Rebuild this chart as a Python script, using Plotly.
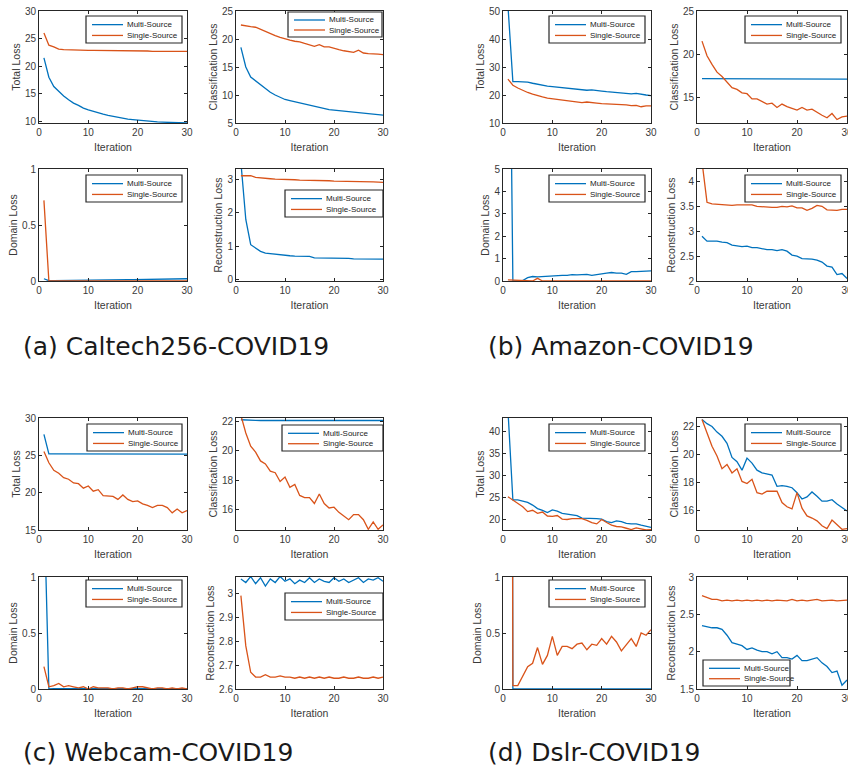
import plotly.graph_objects as go

W, H = 848, 772
iterations = list(range(1, 31))

# ---------------- (a) Caltech256-COVID19 ----------------
a_total_multi = [21.5, 18.0, 16.3, 15.4, 14.6, 13.9, 13.3, 12.9, 12.4, 12.1, 11.8, 11.6, 11.3, 11.1, 10.9,
                 10.7, 10.6, 10.4, 10.3, 10.2, 10.1, 10.0, 9.95, 9.9, 9.85, 9.8, 9.75, 9.7, 9.7, 9.7]
a_total_single = [26.0, 23.8, 23.5, 23.1, 23.0, 22.95, 22.9, 22.9, 22.9, 22.85, 22.85, 22.85, 22.8, 22.8, 22.8,
                  22.8, 22.75, 22.75, 22.75, 22.75, 22.75, 22.75, 22.7, 22.7, 22.7, 22.7, 22.7, 22.7, 22.7, 22.7]
a_cls_multi = [18.5, 15.0, 13.2, 12.5, 11.8, 11.1, 10.5, 10.0, 9.6, 9.2, 9.0, 8.8, 8.6, 8.3, 8.1,
               7.9, 7.7, 7.5, 7.4, 7.3, 7.2, 7.1, 7.0, 6.9, 6.9, 6.8, 6.7, 6.6, 6.5, 6.4]
a_cls_single = [22.5, 22.3, 22.2, 22.1, 21.7, 21.3, 20.9, 20.6, 20.3, 20.0, 19.8, 19.6, 19.5, 19.2, 19.0,
                18.7, 19.0, 18.6, 18.6, 18.3, 18.1, 17.9, 17.8, 17.6, 18.0, 17.5, 17.4, 17.4, 17.3, 17.2]
a_dom_multi = [0.02, 0.003, 0.004, 0.005, 0.006, 0.006, 0.007, 0.008, 0.008, 0.009, 0.009, 0.01, 0.01, 0.011, 0.011,
               0.012, 0.012, 0.013, 0.013, 0.014, 0.014, 0.015, 0.015, 0.016, 0.016, 0.017, 0.017, 0.018, 0.019, 0.02]
a_dom_single = [0.72, 0.0, 0.0, 0.0, 0.0, 0.0, 0.0, 0.0, 0.0, 0.0, 0.0, 0.0, 0.0, 0.0, 0.0,
                0.0, 0.0, 0.0, 0.0, 0.0, 0.0, 0.0, 0.0, 0.0, 0.0, 0.0, 0.0, 0.0, 0.0, 0.0]
a_rec_multi = [3.5, 1.8, 1.05, 0.95, 0.85, 0.8, 0.78, 0.76, 0.74, 0.72, 0.72, 0.71, 0.7, 0.69, 0.7,
               0.66, 0.66, 0.65, 0.65, 0.65, 0.64, 0.64, 0.64, 0.63, 0.63, 0.63, 0.62, 0.62, 0.62, 0.62]
a_rec_single = [3.1, 3.1, 3.1, 3.05, 3.03, 3.02, 3.01, 3.0, 3.0, 3.0, 2.99, 2.98, 2.97, 2.97, 2.96,
                2.96, 2.95, 2.95, 2.95, 2.94, 2.94, 2.94, 2.93, 2.93, 2.93, 2.93, 2.92, 2.92, 2.91, 2.9]

# ---------------- (b) Amazon-COVID19 ----------------
b_total_multi = [52.0, 24.8, 24.8, 24.8, 24.6, 24.2, 23.8, 23.5, 23.2, 23.0, 22.8, 22.6, 22.4, 22.3, 22.0,
                 21.9, 21.7, 21.8, 21.5, 21.4, 21.2, 21.0, 20.8, 20.6, 20.5, 20.4, 20.6, 20.2, 20.0, 19.8]
b_total_single = [25.7, 23.5, 22.5, 21.6, 20.9, 20.3, 19.7, 19.3, 18.9, 18.7, 18.3, 18.1, 17.9, 17.7, 17.6,
                  17.3, 17.5, 17.2, 17.1, 16.9, 16.8, 16.9, 16.6, 16.7, 16.5, 16.2, 16.3, 15.8, 16.1, 16.1]
b_cls_multi = [17.15, 17.15, 17.15, 17.15, 17.14, 17.14, 17.14, 17.13, 17.13, 17.13, 17.13, 17.12, 17.12, 17.12, 17.12,
               17.12, 17.12, 17.11, 17.11, 17.11, 17.11, 17.11, 17.11, 17.1, 17.1, 17.1, 17.1, 17.1, 17.1, 17.1]
b_cls_single = [21.5, 19.8, 18.8, 17.9, 17.4, 16.7, 16.1, 15.9, 15.5, 15.4, 14.8, 14.8, 14.5, 14.2, 14.3,
                13.8, 14.2, 13.9, 13.7, 13.5, 13.8, 13.5, 13.6, 13.2, 12.9, 12.6, 13.1, 12.4, 12.7, 12.8]
b_dom_multi = [20.0, 0.0, 0.0, 0.02, 0.15, 0.2, 0.18, 0.2, 0.22, 0.22, 0.23, 0.25, 0.25, 0.28, 0.27,
               0.3, 0.3, 0.25, 0.3, 0.32, 0.35, 0.38, 0.35, 0.35, 0.3, 0.42, 0.42, 0.43, 0.42, 0.45]
b_dom_single = [0.05, 0.04, 0.03, 0.0, 0.0, 0.0, 0.12, 0.0, 0.0, 0.0, 0.01, 0.01, 0.0, 0.0, 0.02,
                0.02, 0.02, 0.01, 0.01, 0.0, 0.01, 0.01, 0.01, 0.01, 0.02, 0.02, 0.02, 0.02, 0.02, 0.01]
b_rec_multi = [2.9, 2.8, 2.8, 2.8, 2.78, 2.77, 2.72, 2.7, 2.69, 2.7, 2.67, 2.67, 2.65, 2.63, 2.63,
               2.61, 2.63, 2.6, 2.52, 2.5, 2.45, 2.45, 2.44, 2.42, 2.38, 2.3, 2.28, 2.13, 2.15, 2.05]
b_rec_single = [4.4, 3.58, 3.55, 3.54, 3.53, 3.52, 3.52, 3.53, 3.53, 3.52, 3.53, 3.5, 3.49, 3.48, 3.48,
                3.48, 3.5, 3.49, 3.51, 3.47, 3.47, 3.42, 3.46, 3.52, 3.5, 3.43, 3.43, 3.42, 3.44, 3.44]

# ---------------- (c) Webcam-COVID19 ----------------
c_total_multi = [27.8, 25.2, 25.2, 25.2, 25.2, 25.15, 25.15, 25.15, 25.15, 25.15, 25.15, 25.15, 25.15, 25.15, 25.15,
                 25.15, 25.15, 25.15, 25.15, 25.15, 25.15, 25.15, 25.15, 25.15, 25.15, 25.15, 25.15, 25.15, 25.15, 25.15]
c_total_single = [25.5, 24.0, 23.0, 22.6, 22.0, 21.8, 21.3, 21.2, 20.6, 20.9, 20.2, 20.4, 19.6, 19.5, 19.5,
                  19.1, 19.7, 19.1, 18.8, 18.9, 18.5, 18.3, 18.0, 18.3, 18.3, 18.0, 17.3, 17.8, 17.3, 17.6]
c_cls_multi = [22.1, 22.07, 22.06, 22.06, 22.05, 22.05, 22.05, 22.05, 22.05, 22.05, 22.05, 22.05, 22.05, 22.05, 22.05,
               22.05, 22.05, 22.05, 22.05, 22.05, 22.05, 22.05, 22.05, 22.05, 22.05, 22.05, 22.05, 22.05, 22.05, 22.05]
c_cls_single = [22.4, 21.2, 20.3, 19.9, 19.3, 19.1, 18.6, 18.5, 17.9, 18.2, 17.5, 17.7, 16.95, 16.8, 16.8,
                16.4, 17.05, 16.4, 16.1, 16.15, 15.8, 15.55, 15.3, 15.65, 15.65, 15.3, 14.65, 15.15, 14.65, 14.95]
c_dom_multi = [1.7, 0.0, 0.003, 0.003, 0.003, 0.003, 0.003, 0.003, 0.003, 0.003, 0.003, 0.003, 0.003, 0.003, 0.003,
               0.003, 0.003, 0.003, 0.003, 0.003, 0.003, 0.003, 0.003, 0.003, 0.003, 0.003, 0.003, 0.003, 0.003, 0.003]
c_dom_single = [0.2, 0.02, 0.03, 0.05, 0.02, 0.03, 0.02, 0.01, 0.02, 0.0, 0.02, 0.01, 0.01, 0.01, 0.0,
                0.01, 0.01, 0.0, 0.01, 0.02, 0.02, 0.01, 0.0, 0.01, 0.01, 0.0, 0.01, 0.0, 0.01, 0.0]
c_rec_multi = [3.06, 3.045, 3.07, 3.04, 3.065, 3.03, 3.06, 3.045, 3.07, 3.05, 3.06, 3.04, 3.055, 3.045, 3.065,
               3.045, 3.06, 3.05, 3.045, 3.065, 3.05, 3.06, 3.045, 3.055, 3.065, 3.045, 3.06, 3.055, 3.065, 3.05]
c_rec_single = [2.99, 2.78, 2.67, 2.65, 2.65, 2.66, 2.65, 2.65, 2.655, 2.65, 2.65, 2.645, 2.65, 2.645, 2.65,
                2.645, 2.65, 2.645, 2.65, 2.645, 2.645, 2.65, 2.645, 2.645, 2.65, 2.645, 2.645, 2.65, 2.645, 2.65]

# ---------------- (d) Dslr-COVID19 ----------------
d_total_multi = [45.0, 24.4, 24.4, 24.1, 23.8, 23.2, 22.4, 22.0, 21.5, 22.1, 21.8, 21.3, 21.1, 20.9, 20.8,
                 20.2, 20.2, 20.1, 20.1, 20.0, 19.4, 19.2, 19.6, 19.4, 19.0, 18.9, 18.9, 18.6, 18.4, 18.1]
d_total_single = [25.1, 24.3, 23.4, 22.8, 21.7, 22.0, 21.3, 21.6, 20.7, 20.6, 20.8, 20.0, 19.9, 20.1, 20.1,
                  20.1, 19.7, 19.2, 18.9, 19.9, 19.2, 18.6, 18.3, 18.2, 17.9, 17.6, 18.0, 17.7, 17.5, 17.6]
d_cls_multi = [22.5, 22.2, 22.0, 21.6, 21.3, 20.8, 19.8, 19.5, 18.9, 19.75, 19.4, 18.9, 18.7, 18.6, 18.55,
               17.75, 17.8, 17.75, 17.65, 17.3, 16.85, 17.0, 17.35, 17.05, 16.7, 16.7, 16.8, 16.5, 16.25, 16.0]
d_cls_single = [22.5, 21.5, 20.6, 19.9, 19.0, 19.3, 18.7, 19.0, 18.1, 17.95, 18.25, 17.3, 17.2, 17.4, 17.4,
                17.4, 16.6, 16.3, 16.15, 17.3, 16.2, 15.65, 15.5, 15.3, 14.95, 14.75, 15.35, 15.0, 14.7, 14.75]
d_dom_multi = [20.0, 0.0, 0.0, 0.0, 0.0, 0.0, 0.0, 0.0, 0.0, 0.0, 0.0, 0.0, 0.0, 0.0, 0.0,
               0.0, 0.0, 0.0, 0.0, 0.0, 0.0, 0.0, 0.0, 0.0, 0.0, 0.0, 0.0, 0.0, 0.0, 0.0]
d_dom_single = [20.0, 0.03, 0.03, 0.12, 0.2, 0.23, 0.37, 0.22, 0.3, 0.47, 0.3, 0.38, 0.38, 0.36, 0.4,
                0.41, 0.35, 0.4, 0.39, 0.45, 0.4, 0.47, 0.42, 0.34, 0.4, 0.45, 0.38, 0.5, 0.48, 0.53]
d_rec_multi = [2.35, 2.33, 2.32, 2.32, 2.3, 2.22, 2.12, 2.1, 2.08, 2.03, 2.05, 2.02, 2.0, 2.0, 1.97,
               2.0, 1.92, 1.92, 1.9, 1.95, 1.88, 1.88, 1.9, 1.92, 1.85, 1.8, 1.72, 1.74, 1.55, 1.62]
d_rec_single = [2.75, 2.72, 2.7, 2.7, 2.68, 2.69, 2.68, 2.69, 2.68, 2.69, 2.68, 2.69, 2.68, 2.69, 2.68,
                2.69, 2.69, 2.68, 2.7, 2.68, 2.69, 2.68, 2.69, 2.7, 2.68, 2.69, 2.69, 2.68, 2.69, 2.69]

series_names = ["Multi-Source", "Single-Source"]
captions = ["(a) Caltech256-COVID19", "(b) Amazon-COVID19", "(c) Webcam-COVID19", "(d) Dslr-COVID19"]
x_ticks = [0, 10, 20, 30]

BLUE = "#0072BD"
ORANGE = "#D95319"
AXC = "#262626"
TXT = "#3a3a3a"
FONT = "Arial, Liberation Sans, sans-serif"

col_x = [(39, 187), (236, 383), (503, 651), (697, 847)]
row_y = [(11, 123), (169, 281), (418, 530), (577, 689)]

# (multi, single, y title, y range, y ticks, column, row, legend box px (l, t, r, b))
panels = [
    (a_total_multi, a_total_single, "Total Loss", [9.7, 30], [10, 15, 20, 25, 30], 0, 0, (86, 16, 182, 43)),
    (a_cls_multi, a_cls_single, "Classification Loss", [5, 25], [5, 10, 15, 20, 25], 1, 0, (288, 12, 382, 37)),
    (a_dom_multi, a_dom_single, "Domain Loss", [0, 1], [0, 0.5, 1], 0, 1, (86, 175, 182, 202)),
    (a_rec_multi, a_rec_single, "Reconstruction Loss", [-0.03, 3.3], [0, 1, 2, 3], 1, 1, (285, 190, 383, 217)),
    (b_total_multi, b_total_single, "Total Loss", [10, 50], [10, 20, 30, 40, 50], 2, 0, (549, 16, 645, 43)),
    (b_cls_multi, b_cls_single, "Classification Loss", [12, 25], [15, 20, 25], 3, 0, (745, 16, 841, 43)),
    (b_dom_multi, b_dom_single, "Domain Loss", [0, 5], [0, 1, 2, 3, 4, 5], 2, 1, (549, 175, 645, 202)),
    (b_rec_multi, b_rec_single, "Reconstruction Loss", [2, 4.25], [2, 2.5, 3, 3.5, 4], 3, 1, (745, 175, 841, 202)),
    (c_total_multi, c_total_single, "Total Loss", [15, 30], [15, 20, 25, 30], 0, 2, (87, 424, 182, 451)),
    (c_cls_multi, c_cls_single, "Classification Loss", [14.6, 22.22], [16, 18, 20, 22], 1, 2, (282, 425, 383, 451)),
    (c_dom_multi, c_dom_single, "Domain Loss", [0, 1], [0, 0.5, 1], 0, 3, (86, 580, 182, 607)),
    (c_rec_multi, c_rec_single, "Reconstruction Loss", [2.6, 3.068], [2.6, 2.7, 2.8, 2.9, 3], 1, 3, (285, 593, 383, 620)),
    (d_total_multi, d_total_single, "Total Loss", [17.5, 43.1], [20, 25, 30, 35, 40], 2, 2, (549, 424, 645, 451)),
    (d_cls_multi, d_cls_single, "Classification Loss", [14.65, 22.6], [16, 18, 20, 22], 3, 2, (745, 424, 841, 451)),
    (d_dom_multi, d_dom_single, "Domain Loss", [0, 1], [0, 0.5, 1], 2, 3, (549, 580, 645, 607)),
    (d_rec_multi, d_rec_single, "Reconstruction Loss", [1.5, 3], [1.5, 2, 2.5, 3], 3, 3, (703, 660, 790, 686)),
]


def fx(p):
    return p / W


def fy(p):
    return 1 - p / H


fig = go.Figure()
shapes = []
annotations = []
layout_axes = {}

for k, (multi, single, ytitle, yr, yt, ci, ri, lg) in enumerate(panels):
    n = k + 1
    xa = "x" if n == 1 else f"x{n}"
    ya = "y" if n == 1 else f"y{n}"
    for vals, color, name in [(multi, BLUE, series_names[0]), (single, ORANGE, series_names[1])]:
        fig.add_trace(go.Scatter(x=iterations, y=vals, mode="lines", name=name,
                                 line=dict(color=color, width=1.3), xaxis=xa, yaxis=ya,
                                 showlegend=False))
    x0, x1 = col_x[ci]
    y0, y1 = row_y[ri]
    common = dict(showline=True, linecolor=AXC, linewidth=1, mirror="ticks", ticks="inside",
                  ticklen=3, tickcolor=AXC, showgrid=False, zeroline=False, automargin=False,
                  ticklabeloverflow="allow",
                  tickfont=dict(family=FONT, size=10, color=TXT))
    layout_axes["xaxis" if n == 1 else f"xaxis{n}"] = dict(
        domain=[fx(x0), fx(x1)], anchor=ya, range=[0, 30], tickvals=x_ticks,
        title=dict(text="Iteration", font=dict(family=FONT, size=10.5, color=TXT), standoff=6),
        **common)
    layout_axes["yaxis" if n == 1 else f"yaxis{n}"] = dict(
        domain=[fy(y1), fy(y0)], anchor=xa, range=yr, tickvals=yt,
        title=dict(text=ytitle, font=dict(family=FONT, size=10.5, color=TXT), standoff=2),
        **common)
    L, T, R, B = lg
    shapes.append(dict(type="rect", xref="paper", yref="paper", x0=fx(L), x1=fx(R), y0=fy(B), y1=fy(T),
                       line=dict(color=AXC, width=1.2), fillcolor="white", layer="above"))
    hgt = B - T
    for j, (color, name) in enumerate([(BLUE, series_names[0]), (ORANGE, series_names[1])]):
        yc = T + hgt * (0.32 if j == 0 else 0.72)
        shapes.append(dict(type="line", xref="paper", yref="paper", x0=fx(L + 6), x1=fx(L + 37),
                           y0=fy(yc), y1=fy(yc), line=dict(color=color, width=1.3), layer="above"))
        annotations.append(dict(xref="paper", yref="paper", x=fx(L + 39), y=fy(yc), text=name,
                                showarrow=False, xanchor="left", yanchor="middle",
                                font=dict(family=FONT, size=8, color="#222")))

cap_pos = [(21, 346), (486, 346), (21, 752), (486, 752)]
for (cx, cy), txt in zip(cap_pos, captions):
    annotations.append(dict(xref="paper", yref="paper", x=fx(cx), y=fy(cy), text=txt, showarrow=False,
                            xanchor="left", yanchor="middle",
                            font=dict(family="DejaVu Sans, Verdana, sans-serif", size=25, color="#1a1a1a")))

fig.update_layout(width=W, height=H, autosize=False, margin=dict(l=0, r=0, t=0, b=0),
                  paper_bgcolor="white", plot_bgcolor="white", showlegend=False,
                  shapes=shapes, annotations=annotations, **layout_axes)

fig.write_html("out.html")
